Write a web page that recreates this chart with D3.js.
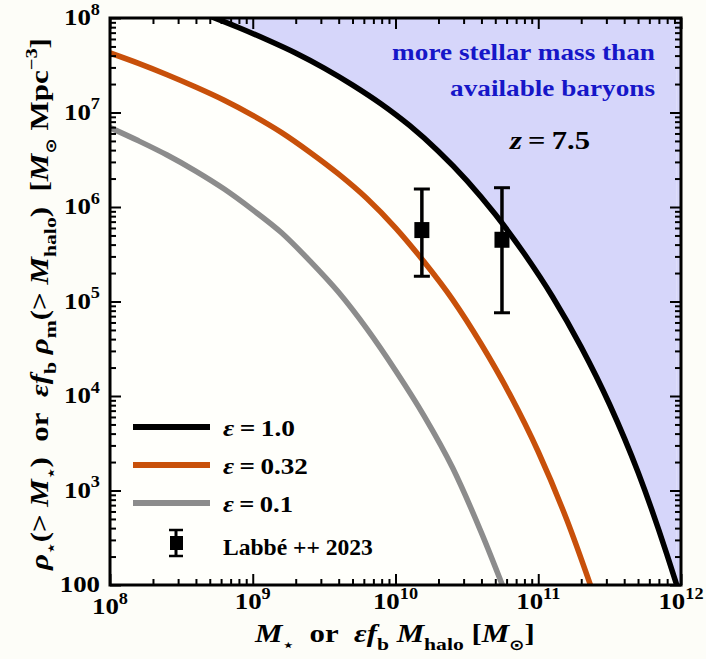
<!DOCTYPE html>
<html><head><meta charset="utf-8">
<script src="https://cdn.jsdelivr.net/npm/d3@7"></script>
<style>
body{margin:0;background:#fdfdf8;}
svg{display:block;}
text{font-weight:bold;}
</style>
</head><body>
<svg id="c" width="706" height="659"></svg>
<script>
// ---- data (log10 values) ----
const blackLogM   = [8.70, 8.90, 9.10, 9.30, 9.50, 9.70, 9.90, 10.10, 10.30, 10.50, 10.70, 10.90, 11.10, 11.30, 11.50, 11.70, 11.90, 11.97];
const blackLogRho = [8.02, 7.90, 7.77, 7.63, 7.47, 7.29, 7.09, 6.86, 6.59, 6.28, 5.92, 5.51, 5.05, 4.52, 3.91, 3.19, 2.33, 2.00];
const orangeLogM   = [8.00, 8.20, 8.40, 8.60, 8.80, 9.00, 9.20, 9.40, 9.60, 9.80, 10.00, 10.20, 10.40, 10.60, 10.80, 11.00, 11.20, 11.40];
const orangeLogRho = [7.63, 7.52, 7.40, 7.27, 7.13, 6.97, 6.79, 6.58, 6.35, 6.09, 5.78, 5.42, 5.02, 4.55, 4.02, 3.41, 2.69, 1.85];
const grayLogM   = [8.00, 8.20, 8.40, 8.60, 8.80, 9.00, 9.20, 9.40, 9.60, 9.80, 10.00, 10.20, 10.40, 10.60, 10.80];
const grayLogRho = [6.84, 6.70, 6.55, 6.38, 6.19, 5.97, 5.73, 5.43, 5.10, 4.71, 4.27, 3.79, 3.24, 2.56, 1.80];
// Labbé et al. 2023 points
const obsM   = [1.53e10, 5.57e10];
const obsRho = [5.7e5, 4.5e5];
const obsHi  = [1.55e6, 1.6e6];
const obsLo  = [1.85e5, 7.6e4];
// ticks
const xMajor = [1e8, 1e9, 1e10, 1e11, 1e12];
const xMajorExp = ["8", "9", "10", "11", "12"];
const yMajor = [1e2, 1e3, 1e4, 1e5, 1e6, 1e7, 1e8];
const yMajorExp = [null, "3", "4", "5", "6", "7", "8"];
const seriesNames = ["\u03b5 = 1.0", "\u03b5 = 0.32", "\u03b5 = 0.1"];
const seriesColors = ["#000000", "#c8500a", "#8c8c8c"];

const FONT = '"Liberation Serif", "Times New Roman", "DejaVu Serif", serif';

const W = 706, H = 659;
const m = {l: 110, t: 18, r: 681, b: 585};
const x = d3.scaleLog().domain([1e8, 1e12]).range([m.l, m.r]);
const y = d3.scaleLog().domain([1e2, 1e8]).range([m.b, m.t]);
const svg = d3.select('#c').style('font-family', FONT);

const toPts = (lm, lr) => lm.map((v, i) => [Math.pow(10, v), Math.pow(10, lr[i])]);
const series = [toPts(blackLogM, blackLogRho), toPts(orangeLogM, orangeLogRho), toPts(grayLogM, grayLogRho)];

svg.append('rect').attr('width', W).attr('height', H).attr('fill', '#fdfdf8');
svg.append('defs').append('clipPath').attr('id', 'clip')
  .append('rect').attr('x', m.l).attr('y', m.t).attr('width', m.r - m.l).attr('height', m.b - m.t);
const plot = svg.append('g').attr('clip-path', 'url(#clip)');
plot.append('rect').attr('x', m.l).attr('y', m.t).attr('width', m.r - m.l).attr('height', m.b - m.t).attr('fill', '#fffffb');

// shaded region above black curve
const area = d3.area().x(d => x(d[0])).y0(y(1e8)).y1(d => y(d[1])).curve(d3.curveMonotoneX);
plot.append('path').datum(series[0]).attr('d', area).attr('fill', '#d6d6fa');
const last = series[0][series[0].length - 1];
plot.append('rect').attr('x', x(last[0])).attr('y', m.t).attr('width', m.r - x(last[0])).attr('height', m.b - m.t).attr('fill', '#d6d6fa');

const line = d3.line().x(d => x(d[0])).y(d => y(d[1])).curve(d3.curveMonotoneX);
[2, 1, 0].forEach(i => {
  plot.append('path').datum(series[i]).attr('d', line).attr('fill', 'none')
    .attr('stroke', seriesColors[i]).attr('stroke-width', 5.5).attr('stroke-linecap', 'butt');
});

// observation points
const obs = obsM.map((v, i) => ({m: v, r: obsRho[i], hi: obsHi[i], lo: obsLo[i]}));
const og = plot.append('g');
obs.forEach(d => {
  const cx = x(d.m);
  og.append('line').attr('x1', cx).attr('x2', cx).attr('y1', y(d.hi)).attr('y2', y(d.lo)).attr('stroke', '#000').attr('stroke-width', 3.5);
  [d.hi, d.lo].forEach(v => og.append('line').attr('x1', cx - 8).attr('x2', cx + 8).attr('y1', y(v)).attr('y2', y(v)).attr('stroke', '#000').attr('stroke-width', 3));
  og.append('rect').attr('x', cx - 7.5).attr('y', y(d.r) - 8).attr('width', 15).attr('height', 16).attr('fill', '#000');
});

// ---- axes (ticks inward on all four sides) ----
const minorOf = (dom) => {
  const out = [];
  for (let e = Math.log10(dom[0]); e < Math.log10(dom[1]); e++) for (let k = 2; k <= 9; k++) out.push(k * Math.pow(10, e));
  return out;
};
const xMinor = minorOf([1e8, 1e12]);
const yMinor = minorOf([1e2, 1e8]);
function drawAxis(gen, scale, vals, size, tr) {
  const g = svg.append('g').attr('transform', tr)
    .call(gen(scale).tickValues(vals).tickSize(-size).tickFormat(''));
  g.select('.domain').remove();
  g.selectAll('line').attr('stroke', '#000').attr('stroke-width', 2);
}
drawAxis(d3.axisBottom, x, xMajor, 11, `translate(0,${m.b})`);
drawAxis(d3.axisBottom, x, xMinor, 6, `translate(0,${m.b})`);
drawAxis(d3.axisTop, x, xMajor, 11, `translate(0,${m.t})`);
drawAxis(d3.axisTop, x, xMinor, 6, `translate(0,${m.t})`);
drawAxis(d3.axisLeft, y, yMajor, 11, `translate(${m.l},0)`);
drawAxis(d3.axisLeft, y, yMinor, 6, `translate(${m.l},0)`);
drawAxis(d3.axisRight, y, yMajor, 11, `translate(${m.r},0)`);
drawAxis(d3.axisRight, y, yMinor, 6, `translate(${m.r},0)`);
svg.append('rect').attr('x', m.l).attr('y', m.t).attr('width', m.r - m.l).attr('height', m.b - m.t)
  .attr('fill', 'none').attr('stroke', '#000').attr('stroke-width', 3);

// ---- rich text helpers ----
function richText(parent, pieces, opts) {
  const t = parent.append('text').attr('font-size', opts.size).attr('text-anchor', opts.anchor || 'start').attr('fill', opts.fill || '#000');
  let shift = 0;
  pieces.forEach(p => {
    const ts = t.append('tspan').text(p.t);
    const target = p.sub ? opts.size * (p.off || 0.3) : p.sup ? -opts.size * (p.off || 0.42) : 0;
    const dy = target - shift;
    if (dy) ts.attr('dy', dy);
    shift = target;
    if (p.it) ts.attr('font-style', 'italic');
    if (p.sub || p.sup) ts.attr('font-size', opts.size * (p.scale || 0.66));
    if (p.fam) ts.attr('font-family', p.fam);
  });
  return t;
}
function placed(px, py, rot, pieces, opts, targetW, sx) {
  const g = svg.append('g');
  const t = richText(g, pieces, opts);
  let s = sx || 1;
  if (targetW) s = targetW / t.node().getComputedTextLength();
  g.attr('transform', `translate(${px},${py})` + (rot ? ` rotate(${rot})` : '') + ` scale(${s},1)`);
  return g;
}

// tick labels
xMajor.forEach((v, i) => {
  placed(x(v), i === 0 ? 614 : 609, 0, [{t: '10'}, {t: xMajorExp[i], sup: true, scale: 0.68}], {size: 24, anchor: 'middle'}, null, 1.12);
});
yMajor.forEach((v, i) => {
  const pieces = yMajorExp[i] ? [{t: '10'}, {t: yMajorExp[i], sup: true, scale: 0.68}] : [{t: '100'}];
  placed(100, y(v) + 7, 0, pieces, {size: 24, anchor: 'end'}, null, 1.12);
});

// axis titles
const STAR = {fam: '"DejaVu Sans",sans-serif'};
placed(395, 642, 0, [
  {t: 'M', it: true}, Object.assign({t: '\u22c6', sub: true, scale: 0.6}, STAR),
  {t: '\u00a0\u00a0or\u00a0\u00a0'},
  {t: '\u03b5', it: true}, {t: 'f', it: true}, {t: 'b', sub: true, scale: 0.7},
  {t: '\u00a0'}, {t: 'M', it: true}, {t: 'halo', sub: true, scale: 0.7},
  {t: '\u00a0[', }, {t: 'M', it: true}, Object.assign({t: '\u2299', sub: true, scale: 0.6}, STAR), {t: ']'}
], {size: 25, anchor: 'middle'}, 280);

placed(48, 304, -90, [
  {t: '\u03c1', it: true}, Object.assign({t: '\u22c6', sub: true, scale: 0.6}, STAR),
  {t: '(>\u00a0'}, {t: 'M', it: true}, Object.assign({t: '\u22c6', sub: true, scale: 0.6}, STAR), {t: ')'},
  {t: '\u00a0\u00a0or\u00a0\u00a0'},
  {t: '\u03b5', it: true}, {t: 'f', it: true}, {t: 'b', sub: true, scale: 0.7},
  {t: '\u00a0'}, {t: '\u03c1', it: true}, {t: 'm', sub: true, scale: 0.7},
  {t: '(>\u00a0'}, {t: 'M', it: true}, {t: 'halo', sub: true, scale: 0.7}, {t: ')\u00a0\u00a0['},
  {t: 'M', it: true}, Object.assign({t: '\u2299', sub: true, scale: 0.6}, STAR),
  {t: '\u00a0Mpc'}, {t: '\u22123', sup: true, scale: 0.66, off: 0.45}, {t: ']'}
], {size: 25, anchor: 'middle'}, 532);

// annotations
placed(655, 60, 0, [{t: 'more stellar mass than'}], {size: 24, anchor: 'end', fill: '#1616c8'}, 263);
placed(655, 96, 0, [{t: 'available baryons'}], {size: 24, anchor: 'end', fill: '#1616c8'}, 205);
placed(510, 149, 0, [{t: 'z', it: true}, {t: '\u2009=\u20097.5'}], {size: 26, anchor: 'start'}, 80);

// legend
const legY = [427, 465, 503];
const legW = [72, 85, 70];
seriesNames.forEach((nm, i) => {
  svg.append('line').attr('x1', 133).attr('x2', 210).attr('y1', legY[i]).attr('y2', legY[i])
    .attr('stroke', seriesColors[i]).attr('stroke-width', 6);
  const parts = nm.split(' = ');
  placed(223, legY[i] + 9, 0, [{t: parts[0], it: true}, {t: '\u2009=\u2009' + parts[1]}], {size: 23}, legW[i]);
});
const lg = svg.append('g');
lg.append('line').attr('x1', 176).attr('x2', 176).attr('y1', 530).attr('y2', 556).attr('stroke', '#000').attr('stroke-width', 3);
[530, 556].forEach(v => lg.append('line').attr('x1', 169).attr('x2', 183).attr('y1', v).attr('y2', v).attr('stroke', '#000').attr('stroke-width', 2.5));
lg.append('rect').attr('x', 170).attr('y', 536).attr('width', 13).attr('height', 14).attr('fill', '#000');
placed(223, 555, 0, [{t: 'Labb\u00e9 ++ 2023'}], {size: 23}, 150);
</script>
</body></html>
